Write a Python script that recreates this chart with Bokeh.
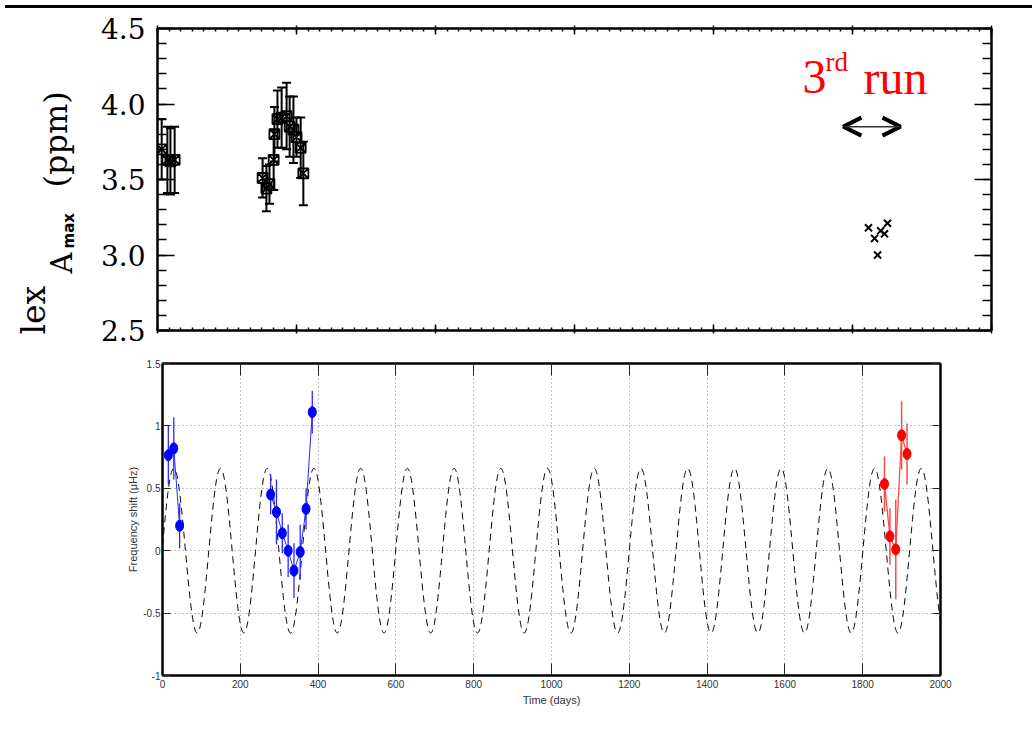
import math
import numpy as np
from bokeh.plotting import figure
from bokeh.layouts import column, row
from bokeh.models import (ColumnDataSource, Whisker, TeeHead, LinearAxis, FixedTicker,
                          Label, Arrow, OpenHead, Div, NumeralTickFormatter, Range1d)
from bokeh.core.properties import value
from bokeh.embed import file_html
from bokeh.resources import INLINE

# ---------------- data: top panel (A_max in ppm vs. time in days) ----------------
run1_day = [11, 26, 34, 45]
run1_amax = [3.70, 3.63, 3.62, 3.63]
run1_err = [0.20, 0.22, 0.22, 0.22]

run2_day = [276, 286, 294, 305, 307, 315, 326, 339, 347, 357, 365, 376, 383]
run2_amax = [3.51, 3.44, 3.47, 3.63, 3.80, 3.90, 3.91, 3.92, 3.85, 3.83, 3.78, 3.71, 3.54]
run2_err = [0.13, 0.15, 0.13, 0.20, 0.18, 0.19, 0.20, 0.22, 0.20, 0.22, 0.13, 0.20, 0.21]

run3_day = [1867, 1883, 1899, 1909, 1917, 1891]
run3_amax = [3.18, 3.11, 3.16, 3.14, 3.21, 3.00]

run3_span = [1801, 1951]
run3_arrow_level = 3.85
run3_label_day = 1694
run3_label_level = 4.176

# y-axis title pieces of the top panel and clipped slide text at the far left
side_texts = ["A", "max", "(ppm)", "lex"]

# ---------------- data: bottom panel (frequency shift vs. time) ----------------
blue1_day = [15, 29, 44]
blue1_shift = [0.765, 0.82, 0.20]
blue1_err = [0.235, 0.25, 0.18]

blue2_day = [278, 293, 308, 323, 338, 354, 369, 385]
blue2_shift = [0.45, 0.31, 0.14, 0.00, -0.16, -0.01, 0.335, 1.11]
blue2_err = [0.16, 0.26, 0.16, 0.21, 0.22, 0.22, 0.165, 0.17]

red_day = [1856, 1870, 1885, 1900, 1914]
red_shift = [0.535, 0.115, 0.01, 0.925, 0.775]
red_err = [0.22, 0.225, 0.40, 0.275, 0.245]

# sinusoidal model curve drawn dashed (parameters)
model_amp = 0.66
model_period = 120.1
model_peak_day = 29.0

top_x_max = 2190
year_days = 365.0

SERIF = "DejaVu Serif"
TIMES = "Liberation Serif"
SANS = "Liberation Sans"

TOTAL_W = 1027

# ---------------- side figure holding the rotated y title ----------------
LW, TH = 96, 336
side = figure(width=LW, height=TH, x_range=Range1d(0, LW), y_range=Range1d(0, TH),
              output_backend="svg", toolbar_location=None,
              x_axis_location=None, y_axis_location=None,
              min_border_left=0, min_border_right=0, min_border_top=0, min_border_bottom=0)
side.frame_align = False
side.outline_line_color = None
side.grid.grid_line_color = None
half_pi = math.pi / 2
side_specs = [  # x, y (px in this panel), font, size, style
    (61, 76, SERIF, "29px", "normal"),
    (68, 101, "DejaVu Sans", "15px", "bold"),
    (55, 162, SERIF, "32px", "normal"),
    (33, 15, SERIF, "33px", "normal"),
]
for txt, (sx, sy, fnt, fs, sty) in zip(side_texts, side_specs):
    side.text(x=[sx], y=[sy], text=[txt], angle=half_pi, text_font=value(fnt),
              text_font_size=value(fs), text_font_style=value(sty), text_color="black",
              text_align=value("left"), text_baseline=value("alphabetic"))

# ---------------- top panel ----------------
top = figure(width=TOTAL_W - LW, height=TH, x_range=Range1d(0, top_x_max), y_range=Range1d(2.5, 4.5),
             output_backend="svg", toolbar_location=None,
             min_border_left=61, min_border_right=36, min_border_top=15, min_border_bottom=19)
top.frame_align = False
top.outline_line_color = "black"
top.outline_line_width = 2
top.grid.grid_line_color = None

xt = FixedTicker(ticks=[year_days * k for k in range(7)],
                 minor_ticks=[year_days * k / 12 for k in range(73)])
yt = FixedTicker(ticks=[2.5, 3.0, 3.5, 4.0, 4.5],
                 minor_ticks=[round(2.5 + 0.1 * k, 2) for k in range(21)])


def hide_labels(ax):
    ax.major_label_text_color = None
    ax.major_label_text_font_size = "1px"
    ax.major_label_standoff = 0


def style_top_x(ax):
    ax.ticker = xt
    ax.axis_line_width = 2
    ax.major_tick_in = 6
    ax.major_tick_out = 3
    ax.minor_tick_in = 3
    ax.minor_tick_out = 0
    ax.major_tick_line_width = 1.5
    ax.minor_tick_line_width = 1.5
    hide_labels(ax)


def style_top_y(ax, labels):
    ax.ticker = yt
    ax.axis_line_width = 2
    ax.major_tick_in = 17
    ax.major_tick_out = 0
    ax.minor_tick_in = 9
    ax.minor_tick_out = 0
    ax.major_tick_line_width = 1.5
    ax.minor_tick_line_width = 1.5
    if labels:
        ax.formatter = NumeralTickFormatter(format="0.0")
        ax.major_label_text_font = SERIF
        ax.major_label_text_font_size = "28px"
        ax.major_label_text_color = "black"
        ax.major_label_standoff = 12
    else:
        hide_labels(ax)


style_top_x(top.xaxis[0])
style_top_y(top.yaxis[0], True)
ax_top_above = LinearAxis()
style_top_x(ax_top_above)
top.add_layout(ax_top_above, "above")
ax_top_right = LinearAxis()
style_top_y(ax_top_right, False)
top.add_layout(ax_top_right, "right")

for days, vals, errs in [(run1_day, run1_amax, run1_err), (run2_day, run2_amax, run2_err)]:
    src = ColumnDataSource(dict(x=days, y=vals,
                                lo=[v - e for v, e in zip(vals, errs)],
                                hi=[v + e for v, e in zip(vals, errs)]))
    top.add_layout(Whisker(source=src, base="x", lower="lo", upper="hi", dimension="height",
                           line_color="black", line_width=2,
                           lower_head=TeeHead(size=9, line_width=2, line_color="black"),
                           upper_head=TeeHead(size=9, line_width=2, line_color="black")))
    top.scatter("x", "y", source=src, marker="square_x", size=10, line_color="black",
                line_width=1.8, fill_color=None)

top.scatter(run3_day, run3_amax, marker="x", size=10, line_color="black", line_width=2)

top.add_layout(Arrow(start=OpenHead(size=18, line_width=4, line_color="black"),
                     end=OpenHead(size=18, line_width=4, line_color="black"),
                     x_start=run3_span[0], x_end=run3_span[1],
                     y_start=run3_arrow_level, y_end=run3_arrow_level,
                     line_width=1.5, line_color="#333333"))

top.add_layout(Label(x=run3_label_day, y=run3_label_level, text="3", text_font=TIMES,
                     text_font_size="48px", text_color="#ff0000",
                     text_align="left", text_baseline="alphabetic"))
top.add_layout(Label(x=run3_label_day, y=run3_label_level, x_offset=23, y_offset=15, text="rd",
                     text_font=TIMES, text_font_size="27px", text_color="#ff0000",
                     text_align="left", text_baseline="alphabetic"))
top.add_layout(Label(x=run3_label_day, y=run3_label_level, x_offset=61, text="run",
                     text_font=TIMES, text_font_size="48px", text_color="#ff0000",
                     text_align="left", text_baseline="alphabetic"))

# ---------------- bottom panel ----------------
bot = figure(width=TOTAL_W, height=377, x_range=Range1d(0, 2000), y_range=Range1d(-1, 1.5),
             output_backend="svg", toolbar_location=None,
             min_border_left=162, min_border_right=87, min_border_top=14, min_border_bottom=51,
             x_axis_label="Time (days)", y_axis_label="Frequency shift (μHz)")
bot.frame_align = False
bot.outline_line_color = "black"
bot.outline_line_width = 2

bxt = FixedTicker(ticks=list(range(0, 2001, 200)), minor_ticks=[])
byt = FixedTicker(ticks=[-1, -0.5, 0, 0.5, 1, 1.5], minor_ticks=[])


def style_bot(ax, ticker, tick_len, labels):
    ax.ticker = ticker
    ax.axis_line_width = 2
    ax.major_tick_in = tick_len
    ax.major_tick_out = 0
    ax.minor_tick_in = 0
    ax.minor_tick_out = 0
    ax.major_tick_line_color = "#222222"
    if labels:
        ax.major_label_text_font = SANS
        ax.major_label_text_font_size = "10px"
        ax.major_label_text_color = "#333333"
        ax.major_label_standoff = 4
        ax.axis_label_text_font = SANS
        ax.axis_label_text_font_size = "11px"
        ax.axis_label_text_font_style = "normal"
        ax.axis_label_text_color = "#333333"
        ax.axis_label_standoff = 3
    else:
        hide_labels(ax)


style_bot(bot.xaxis[0], bxt, 12, True)
style_bot(bot.yaxis[0], byt, 8, True)
bot.yaxis[0].major_label_standoff = 2
bot.yaxis[0].axis_label_standoff = 1
bot.yaxis[0].formatter = NumeralTickFormatter(format="0.[0]")
bax_above = LinearAxis()
style_bot(bax_above, bxt, 12, False)
bot.add_layout(bax_above, "above")
bax_right = LinearAxis()
style_bot(bax_right, byt, 8, False)
bot.add_layout(bax_right, "right")

bot.xgrid.ticker = bxt
bot.ygrid.ticker = byt
bot.grid.grid_line_color = "#808080"
bot.grid.grid_line_dash = "1 3"
bot.grid.grid_line_width = 1

model_t = np.linspace(0, 2000, 2001)
model_y = model_amp * np.cos(2 * np.pi * (model_t - model_peak_day) / model_period)
bot.line(model_t, model_y, line_color="black", line_width=1, line_dash="7 5")

for days, vals, errs in [(blue1_day, blue1_shift, blue1_err), (blue2_day, blue2_shift, blue2_err)]:
    src = ColumnDataSource(dict(x=days, y=vals,
                                lo=[v - e for v, e in zip(vals, errs)],
                                hi=[v + e for v, e in zip(vals, errs)]))
    bot.segment(x0="x", y0="lo", x1="x", y1="hi", source=src, line_color="#2a2aff", line_width=1.3)
    bot.line("x", "y", source=src, line_color="#2a2aff", line_width=1)
    bot.ellipse("x", "y", width=8, height=11, width_units="screen", height_units="screen",
                source=src, fill_color="#0000ff", line_color="#0000ff")

rsrc = ColumnDataSource(dict(x=red_day, y=red_shift,
                             lo=[v - e for v, e in zip(red_shift, red_err)],
                             hi=[v + e for v, e in zip(red_shift, red_err)]))
bot.segment(x0="x", y0="lo", x1="x", y1="hi", source=rsrc, line_color="#ff4a4a", line_width=1.5)
bot.line("x", "y", source=rsrc, line_color="#ff4a4a", line_width=1.3)
bot.ellipse("x", "y", width=8, height=11, width_units="screen", height_units="screen",
            source=rsrc, fill_color="#ff0000", line_color="#ff0000")

strip = Div(text="", width=TOTAL_W, height=3, styles={"background-color": "black"})

p = column(strip, row(side, top, spacing=0), bot, spacing=0)

open("out.html", "w").write(file_html(p, INLINE))
